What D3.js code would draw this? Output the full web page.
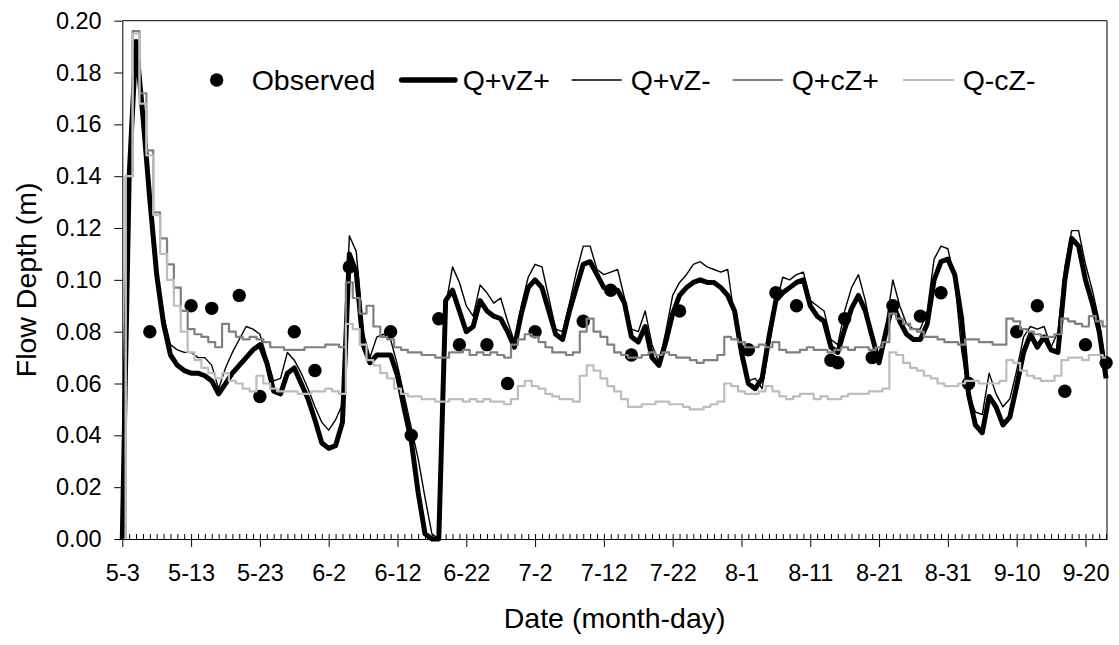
<!DOCTYPE html>
<html>
<head>
<meta charset="utf-8">
<script src="https://cdn.jsdelivr.net/npm/d3@7"></script>
<style>
  body { margin: 0; background: #fff; }
  text { font-family: "Liberation Sans", Arial, sans-serif; }
</style>
</head>
<body>
<div class="chart"></div>
<script>
// one value per day, starting 5-3
let qvzPlus = [
  0.000, 0.140, 0.192, 0.163, 0.131, 0.102, 0.083, 0.071, 0.067, 0.065,
  0.064, 0.064, 0.063, 0.061, 0.056, 0.060, 0.064, 0.067, 0.070, 0.073,
  0.075, 0.068, 0.057, 0.056, 0.064, 0.066, 0.060, 0.054, 0.046, 0.037,
  0.035, 0.036, 0.045, 0.110, 0.103, 0.075, 0.068, 0.071, 0.071, 0.071,
  0.063, 0.050, 0.038, 0.018, 0.002, 0.000, 0.000, 0.092, 0.096, 0.088,
  0.080, 0.082, 0.092, 0.088, 0.086, 0.085, 0.080, 0.074, 0.087, 0.097,
  0.100, 0.097, 0.088, 0.079, 0.077, 0.088, 0.097, 0.106, 0.107, 0.102,
  0.097, 0.096, 0.096, 0.091, 0.078, 0.076, 0.082, 0.070, 0.067, 0.076,
  0.087, 0.094, 0.097, 0.099, 0.100, 0.099, 0.099, 0.097, 0.094, 0.088,
  0.072, 0.060, 0.058, 0.062, 0.078, 0.092, 0.095, 0.097, 0.099, 0.100,
  0.090, 0.086, 0.084, 0.074, 0.072, 0.081, 0.089, 0.094, 0.088, 0.078,
  0.068, 0.080, 0.091, 0.084, 0.079, 0.077, 0.077, 0.083, 0.100, 0.107,
  0.108, 0.102, 0.085, 0.056, 0.044, 0.041, 0.055, 0.051, 0.044, 0.047,
  0.059, 0.072, 0.079, 0.074, 0.078, 0.073, 0.072, 0.100, 0.116, 0.113,
  0.100, 0.091, 0.080, 0.062
];
let qvzMinus = [
  0.000, 0.140, 0.192, 0.166, 0.134, 0.103, 0.086, 0.075, 0.073, 0.072,
  0.072, 0.070, 0.070, 0.067, 0.058, 0.066, 0.072, 0.077, 0.082, 0.081,
  0.079, 0.070, 0.061, 0.062, 0.072, 0.069, 0.064, 0.058, 0.051, 0.045,
  0.042, 0.046, 0.052, 0.117, 0.111, 0.080, 0.070, 0.078, 0.079, 0.077,
  0.067, 0.055, 0.043, 0.031, 0.016, 0.002, 0.000, 0.090, 0.105, 0.099,
  0.090, 0.086, 0.098, 0.095, 0.091, 0.093, 0.084, 0.076, 0.090, 0.101,
  0.106, 0.105, 0.093, 0.081, 0.080, 0.091, 0.103, 0.113, 0.113, 0.104,
  0.102, 0.103, 0.104, 0.093, 0.081, 0.080, 0.088, 0.075, 0.068, 0.080,
  0.094, 0.099, 0.102, 0.106, 0.107, 0.105, 0.104, 0.103, 0.104, 0.085,
  0.069, 0.061, 0.062, 0.058, 0.074, 0.090, 0.101, 0.100, 0.102, 0.103,
  0.092, 0.090, 0.088, 0.077, 0.075, 0.088, 0.097, 0.102, 0.092, 0.078,
  0.071, 0.082, 0.100, 0.090, 0.083, 0.081, 0.081, 0.088, 0.108, 0.113,
  0.112, 0.100, 0.073, 0.056, 0.049, 0.048, 0.064, 0.056, 0.051, 0.054,
  0.065, 0.078, 0.082, 0.081, 0.082, 0.074, 0.080, 0.105, 0.119, 0.119,
  0.106, 0.096, 0.084, 0.066
];
let qczPlus = [
  0.000, 0.140, 0.196, 0.172, 0.150, 0.126, 0.116, 0.106, 0.097, 0.088,
  0.081, 0.079, 0.078, 0.076, 0.074, 0.083, 0.080, 0.078, 0.077, 0.078,
  0.077, 0.076, 0.074, 0.074, 0.073, 0.073, 0.073, 0.074, 0.074, 0.074,
  0.075, 0.075, 0.074, 0.099, 0.093, 0.087, 0.090, 0.082, 0.078, 0.077,
  0.074, 0.073, 0.072, 0.072, 0.071, 0.071, 0.070, 0.070, 0.072, 0.072,
  0.073, 0.071, 0.072, 0.071, 0.072, 0.071, 0.070, 0.075, 0.077, 0.079,
  0.078, 0.076, 0.074, 0.072, 0.072, 0.071, 0.072, 0.080, 0.085, 0.080,
  0.078, 0.075, 0.072, 0.071, 0.070, 0.070, 0.071, 0.072, 0.071, 0.072,
  0.071, 0.070, 0.070, 0.069, 0.068, 0.069, 0.069, 0.071, 0.078, 0.077,
  0.076, 0.074, 0.074, 0.075, 0.074, 0.076, 0.073, 0.072, 0.072, 0.073,
  0.074, 0.073, 0.073, 0.072, 0.073, 0.074, 0.073, 0.074, 0.074, 0.073,
  0.074, 0.076, 0.087, 0.085, 0.083, 0.081, 0.080, 0.078, 0.078, 0.077,
  0.076, 0.076, 0.075, 0.077, 0.077, 0.076, 0.076, 0.075, 0.075, 0.085,
  0.084, 0.081, 0.080, 0.079, 0.078, 0.078, 0.079, 0.085, 0.084, 0.083,
  0.082, 0.086, 0.084, 0.082
];
let qczMinus = [
  0.000, 0.140, 0.195, 0.168, 0.148, 0.125, 0.110, 0.100, 0.090, 0.080,
  0.072, 0.069, 0.066, 0.064, 0.062, 0.064, 0.061, 0.060, 0.058, 0.057,
  0.063, 0.060, 0.058, 0.057, 0.057, 0.057, 0.056, 0.056, 0.057, 0.057,
  0.058, 0.057, 0.056, 0.083, 0.081, 0.075, 0.069, 0.067, 0.064, 0.062,
  0.058, 0.056, 0.055, 0.055, 0.054, 0.054, 0.053, 0.053, 0.054, 0.054,
  0.053, 0.054, 0.053, 0.054, 0.053, 0.053, 0.052, 0.054, 0.059, 0.061,
  0.059, 0.058, 0.056, 0.055, 0.054, 0.054, 0.053, 0.063, 0.067, 0.065,
  0.062, 0.059, 0.057, 0.054, 0.051, 0.051, 0.052, 0.052, 0.053, 0.053,
  0.052, 0.052, 0.051, 0.050, 0.050, 0.051, 0.052, 0.053, 0.060, 0.059,
  0.057, 0.056, 0.056, 0.057, 0.059, 0.057, 0.055, 0.054, 0.055, 0.056,
  0.056, 0.054, 0.055, 0.054, 0.054, 0.055, 0.056, 0.056, 0.056, 0.057,
  0.057, 0.058, 0.072, 0.071, 0.068, 0.066, 0.065, 0.063, 0.062, 0.060,
  0.059, 0.059, 0.060, 0.061, 0.061, 0.060, 0.060, 0.060, 0.061, 0.069,
  0.068, 0.065, 0.063, 0.062, 0.061, 0.061, 0.063, 0.069, 0.070, 0.070,
  0.069, 0.071, 0.071, 0.070
];

// observed depths: day after 5-3, depth (m)
let obsDay = [4, 10, 13, 17, 20, 25, 28, 33, 39, 42, 46, 49, 53, 56, 60, 67, 71, 74, 81,
  91, 95, 98, 103, 104, 105, 109, 112, 116, 119, 123, 130, 133, 137, 140, 143];
let obsDepth = [0.080, 0.090, 0.089, 0.094, 0.055, 0.080, 0.065, 0.105, 0.080, 0.040,
  0.085, 0.075, 0.075, 0.060, 0.080, 0.084, 0.096, 0.071, 0.088, 0.073, 0.095, 0.090,
  0.069, 0.068, 0.085, 0.070, 0.090, 0.086, 0.095, 0.060, 0.080, 0.090, 0.057, 0.075, 0.068];

let yTicks = [0, 0.02, 0.04, 0.06, 0.08, 0.10, 0.12, 0.14, 0.16, 0.18, 0.20];
let legendNames = ['Observed', 'Q+vZ+', 'Q+vZ-', 'Q+cZ+', 'Q-cZ-'];

let config = {
  width: 1119, height: 645,
  left: 122.3, right: 1107, top: 20.7, bottom: 539,
  tickFont: '23.5px', titleFont: '28.5px', legendFont: '28.5px',
  dotR: 6.7
};

let startMs = Date.UTC(2003, 4, 3);
let dayMs = 864e5;
let toDate = (d) => new Date(startMs + d * dayMs);

let x = d3.scaleUtc()
  .domain([toDate(0), toDate(143.13)])
  .range([config.left, config.right]);
let y = d3.scaleLinear()
  .domain([0, 0.2])
  .range([config.bottom, config.top]);

let svg = d3.select('div.chart').append('svg')
  .attr('width', config.width).attr('height', config.height);

svg.append('rect').attr('width', config.width).attr('height', config.height).attr('fill', '#fff');

// series styles, drawn in legend order
let series = [
  { name: 'Q+vZ+', values: qvzPlus, color: '#000', width: 5, legendWidth: 5.5, curve: d3.curveLinear },
  { name: 'Q+vZ-', values: qvzMinus, color: '#000', width: 1.4, legendWidth: 1.4, curve: d3.curveLinear },
  { name: 'Q+cZ+', values: qczPlus, color: '#808080', width: 2.2, legendWidth: 1.8, curve: d3.curveStep },
  { name: 'Q-cZ-', values: qczMinus, color: '#bdbdbd', width: 2.2, legendWidth: 1.8, curve: d3.curveStep }
];

// observed points (bottom layer)
svg.append('g').selectAll('circle')
  .data(obsDay.map((d, i) => [d, obsDepth[i]]))
  .enter().append('circle')
  .attr('cx', (d) => x(toDate(d[0])))
  .attr('cy', (d) => y(d[1]))
  .attr('r', config.dotR)
  .attr('fill', '#000');

svg.append('g').selectAll('path')
  .data(series)
  .enter().append('path')
  .attr('d', (s) => d3.line()
    .x((d, i) => x(toDate(i)))
    .y((d) => y(d))
    .curve(s.curve)(s.values))
  .attr('fill', 'none')
  .attr('stroke', (s) => s.color)
  .attr('stroke-width', (s) => s.width)
  .attr('stroke-linejoin', 'round');

// axes
let yAxis = d3.axisLeft(y)
  .tickValues(yTicks)
  .tickFormat(d3.format('.2f'))
  .tickSize(8).tickSizeOuter(0).tickPadding(12.6);

let gy = svg.append('g')
  .attr('transform', 'translate(' + config.left + ',0)')
  .call(yAxis);

let majorDays = d3.utcDay.range(toDate(0), toDate(143.5), 10);
let xAxis = d3.axisBottom(x)
  .tickValues(majorDays)
  .tickFormat(d3.utcFormat('%-m-%-d'))
  .tickSize(8).tickSizeOuter(0).tickPadding(17);

let gx = svg.append('g')
  .attr('transform', 'translate(0,' + config.bottom + ')')
  .call(xAxis);

let minorAxis = d3.axisBottom(x)
  .tickValues(d3.utcDay.range(toDate(0), toDate(143.5), 1))
  .tickFormat('')
  .tickSize(-5).tickSizeOuter(0);

let gm = svg.append('g')
  .attr('transform', 'translate(0,' + config.bottom + ')')
  .call(minorAxis);
gm.select('.domain').remove();

[gx, gy].forEach((g) => {
  g.selectAll('text')
    .attr('font-family', '"Liberation Sans", Arial, sans-serif')
    .attr('font-size', config.tickFont)
    .attr('fill', '#000');
  g.selectAll('line').attr('stroke', '#000');
  g.select('.domain').attr('stroke', '#000');
});

// top and right border
svg.append('path')
  .attr('d', 'M' + config.left + ',' + config.top + 'H' + config.right + 'V' + config.bottom)
  .attr('fill', 'none')
  .attr('stroke', '#000');

// axis titles
svg.append('text')
  .attr('x', (config.left + config.right) / 2)
  .attr('y', 628)
  .attr('text-anchor', 'middle')
  .attr('font-size', config.titleFont)
  .text('Date (month-day)');

svg.append('text')
  .attr('transform', 'translate(36,' + (config.top + config.bottom) / 2 + ') rotate(-90)')
  .attr('text-anchor', 'middle')
  .attr('font-size', config.titleFont)
  .text('Flow Depth (m)');

// legend
let legendY = 80;
let legend = svg.append('g');
legend.append('circle')
  .attr('cx', 216.7).attr('cy', legendY).attr('r', config.dotR).attr('fill', '#000');

let legendLines = [[401.7, 455], [571.7, 621.7], [732.7, 783], [903, 954]];
let legendText = [251.7, 462.7, 630.7, 791.7, 962.7];

series.forEach((s, i) => {
  legend.append('line')
    .attr('x1', legendLines[i][0]).attr('x2', legendLines[i][1])
    .attr('y1', legendY).attr('y2', legendY)
    .attr('stroke', s.color)
    .attr('stroke-width', s.legendWidth)
    .attr('stroke-linecap', i === 0 ? 'round' : 'butt');
});

legend.selectAll('text')
  .data(legendNames)
  .enter().append('text')
  .attr('x', (d, i) => legendText[i])
  .attr('y', legendY + 10)
  .attr('font-size', config.legendFont)
  .text((d) => d);
</script>
</body>
</html>
